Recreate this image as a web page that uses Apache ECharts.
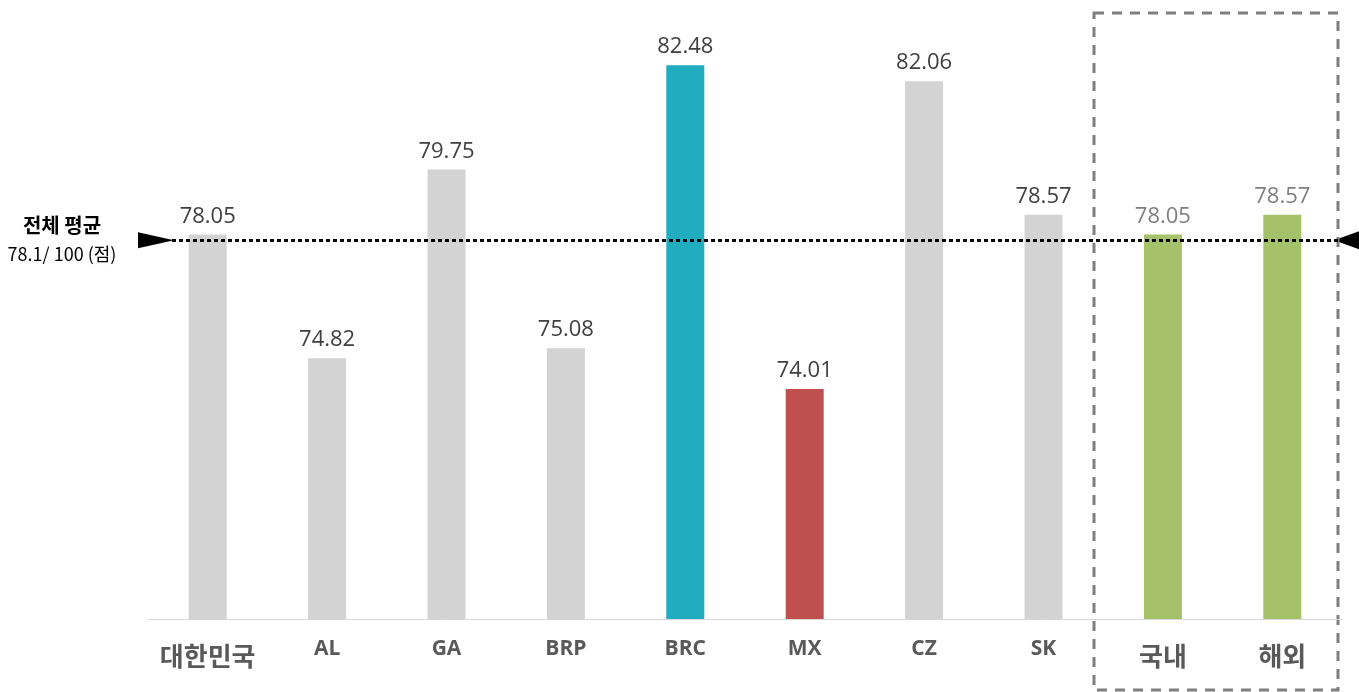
<!DOCTYPE html>
<html><head><meta charset="utf-8">
<script src="https://cdn.jsdelivr.net/npm/echarts@6/dist/echarts.min.js"></script>
<style>html,body{margin:0;padding:0;background:#fff}#c{width:1359px;height:692px}</style>
</head><body><div id="c"></div>
<script>
const categories = ['대한민국','AL','GA','BRP','BRC','MX','CZ','SK','국내','해외'];
const values = [78.05, 74.82, 79.75, 75.08, 82.48, 74.01, 82.06, 78.57, 78.05, 78.57];
const barColors = ['#d3d3d3','#d3d3d3','#d3d3d3','#d3d3d3','#20adbf','#c0504d','#d3d3d3','#d3d3d3','#a5c26a','#a5c26a'];
const avgTitle = '전체 평균';
const avgText = '78.1/ 100 (점)';
const avgLineLevel = 77.9; // level of dotted line

const chart = echarts.init(document.getElementById('c'), null, {renderer:'canvas'});
const isKorean = s => /[\uac00-\ud7a3]/.test(s);
chart.setOption({
  animation:false,
  grid:{left:148, right:17, top:7, bottom:73},
  xAxis:{type:'category', data:categories,
    axisLine:{lineStyle:{color:'#d9d9d9', width:1}}, axisTick:{show:false},
    axisLabel:{margin:20, color:'#595959', fontWeight:'bold', fontFamily:'Noto Sans CJK KR',
      formatter: v => isKorean(v) ? '{k|'+v+'}' : '{l|'+v+'}',
      rich:{k:{fontSize:26, fontWeight:'bold', color:'#595959', fontFamily:'Noto Sans CJK KR', padding:[4,0,0,0]},
            l:{fontSize:21, fontWeight:'bold', color:'#595959', fontFamily:'Open Sans'}}}},
  yAxis:{type:'value', min:68, max:84, show:false, splitLine:{show:false}},
  series:[{type:'bar', barWidth:38,
    data: values.map((v,i)=>({value:v, itemStyle:{color:barColors[i]},
      label:{color: i>=8 ? '#7f7f7f' : '#404040'}})),
    label:{show:true, position:'top', distance:7, fontSize:22, fontFamily:'Open Sans',
      formatter: p => p.value.toFixed(2)},
    markLine:{silent:true, symbol:['none','none'],
      lineStyle:{color:'#000', width:3, type:[4,3]},
      label:{show:false},
      data:[[{x:172, yAxis:avgLineLevel},{x:1340, yAxis:avgLineLevel}]]}
  }]
});
const yLine = chart.convertToPixel({yAxisIndex:0}, avgLineLevel);
chart.setOption({graphic:[
  {type:'polygon', shape:{points:[[138,yLine-8],[174,yLine],[138,yLine+8]]}, style:{fill:'#000'}},
  {type:'polygon', shape:{points:[[1359,yLine-9],[1334,yLine],[1359,yLine+9]]}, style:{fill:'#000'}},
  {type:'text', x:62, y:yLine-15, style:{text:avgTitle, fontSize:20, fontWeight:'bold', fill:'#000', fontFamily:'Noto Sans CJK KR', align:'center', verticalAlign:'middle'}},
  {type:'text', x:62, y:yLine+14, style:{text:avgText, fontSize:18, fill:'#000', fontFamily:'Noto Sans CJK KR', align:'center', verticalAlign:'middle'}},
  {type:'rect', shape:{x:1094, y:13, width:244, height:677}, style:{fill:'none', stroke:'#7f7f7f', lineWidth:3, lineDash:[10,8]}}
]});
</script></body></html>
